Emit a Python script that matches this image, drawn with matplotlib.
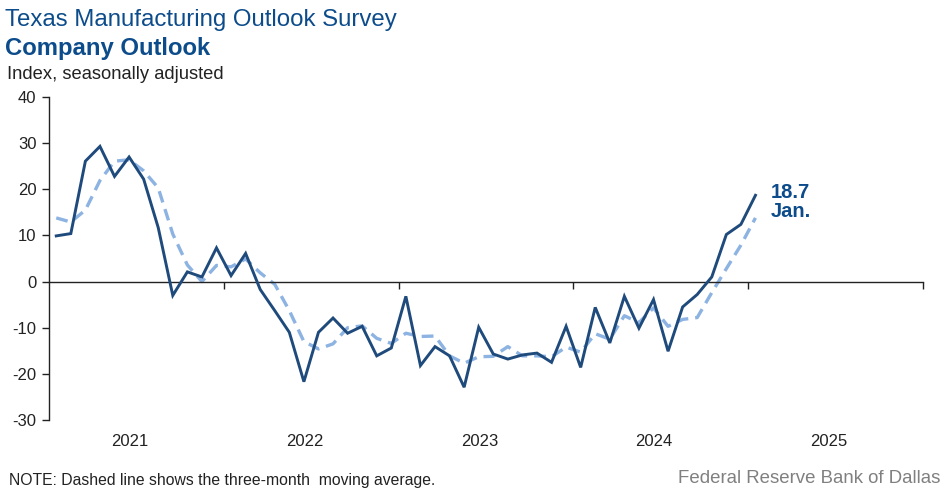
import matplotlib
matplotlib.use("Agg")
import matplotlib.pyplot as plt

plt.rcParams['font.family'] = ['Liberation Sans', 'DejaVu Sans']
plt.rcParams['lines.scale_dashes'] = False

# Monthly data, Jan 2021 - Jan 2025
months = ["2021-01", "2021-02", "2021-03", "2021-04", "2021-05", "2021-06", "2021-07", "2021-08",
          "2021-09", "2021-10", "2021-11", "2021-12", "2022-01", "2022-02", "2022-03", "2022-04",
          "2022-05", "2022-06", "2022-07", "2022-08", "2022-09", "2022-10", "2022-11", "2022-12",
          "2023-01", "2023-02", "2023-03", "2023-04", "2023-05", "2023-06", "2023-07", "2023-08",
          "2023-09", "2023-10", "2023-11", "2023-12", "2024-01", "2024-02", "2024-03", "2024-04",
          "2024-05", "2024-06", "2024-07", "2024-08", "2024-09", "2024-10", "2024-11", "2024-12",
          "2025-01"]
company_outlook = [9.9, 10.4, 26.1, 29.3, 22.8, 27.0, 22.2, 11.7,
                   -3.0, 2.1, 1.0, 7.3, 1.3, 6.1, -1.7, -6.3,
                   -11.0, -21.7, -11.0, -7.9, -11.2, -9.7, -16.1, -14.4,
                   -3.2, -18.2, -14.1, -16.1, -22.9, -9.9, -15.7, -16.8,
                   -15.9, -15.5, -17.5, -9.7, -18.6, -5.6, -13.3, -3.2,
                   -10.1, -3.9, -15.1, -5.5, -2.8, 1.0, 10.2, 12.4,
                   18.7]
moving_avg_3m = [13.8, 12.9, 15.5, 21.9, 26.1, 26.4, 24.0, 20.3,
                 10.3, 3.6, 0.0, 3.5, 3.2, 4.9, 1.9, -0.6,
                 -6.3, -13.0, -14.6, -13.5, -10.0, -9.6, -12.3, -13.4,
                 -11.2, -11.9, -11.8, -16.1, -17.7, -16.3, -16.2, -14.1,
                 -16.1, -16.1, -16.3, -14.2, -15.3, -11.3, -12.5, -7.4,
                 -8.9, -5.7, -9.7, -8.2, -7.8, -2.4, 2.8, 7.9,
                 13.8]
year_labels = ["2021", "2022", "2023", "2024", "2025"]
y_ticks = [-30, -20, -10, 0, 10, 20, 30, 40]

title_blue = "#0D4C8B"
line_dark = "#1F4A7C"
line_light = "#8DB3E2"

fig = plt.figure(figsize=(9.49, 4.93), dpi=100)
ax = fig.add_axes([0.0516, 0.1481, 0.9210, 0.6551])

x = [i + 0.5 for i in range(len(months))]
ax.plot(x, moving_avg_3m, color=line_light, lw=2.4, dashes=(8.5, 5), solid_capstyle='butt',
        dash_capstyle='butt', zorder=2)
ax.plot(x, company_outlook, color=line_dark, lw=2.1, zorder=3, solid_joinstyle='miter')

ax.set_xlim(0, 12 * len(year_labels))
ax.set_ylim(-30, 40)
ax.set_yticks(y_ticks)
ax.set_yticklabels([str(v) for v in y_ticks])

for s in ['top', 'right']:
    ax.spines[s].set_visible(False)
ax.spines['bottom'].set_position(('data', 0))
ax.spines['bottom'].set_color('#222222')
ax.spines['bottom'].set_linewidth(1.0)
ax.spines['left'].set_color('#222222')
ax.spines['left'].set_linewidth(1.0)

ax.set_xticks([12 * k for k in range(1, len(year_labels) + 1)])
ax.set_xticklabels([])
ax.tick_params(axis='x', direction='out', length=5, width=1.0, color='#222222')
ax.tick_params(axis='y', direction='out', length=5, width=1.0, color='#222222',
               labelsize=12, pad=4, labelcolor='#222222')

for k, lab in enumerate(year_labels):
    ax.text(12 * k + 6 - 0.45, -0.068, lab, transform=ax.get_xaxis_transform(),
            ha='center', va='center', fontsize=12, color='#222222')

ax.annotate(f"{company_outlook[-1]:.1f}\nJan.", xy=(x[-1], company_outlook[-1]),
            xytext=(15, 12), textcoords='offset pixels', ha='left', va='top',
            fontsize=14.5, fontweight='bold', color=title_blue, linespacing=1.0)

fig.text(0.005, 0.960, "Texas Manufacturing Outlook Survey", fontsize=17.3, color=title_blue,
         ha='left', va='center')
fig.text(0.005, 0.902, "Company Outlook", fontsize=17.2, fontweight='bold', color=title_blue,
         ha='left', va='center')
fig.text(0.007, 0.848, "Index, seasonally adjusted", fontsize=13.2, color='#222222',
         ha='left', va='center')
fig.text(0.010, 0.026, "NOTE: Dashed line shows the three-month  moving average.", fontsize=11.3,
         color='#222222', ha='left', va='center')
fig.text(0.991, 0.030, "Federal Reserve Bank of Dallas", fontsize=13.4, color='#808080',
         ha='right', va='center')

fig.savefig("out.png", dpi=100)
